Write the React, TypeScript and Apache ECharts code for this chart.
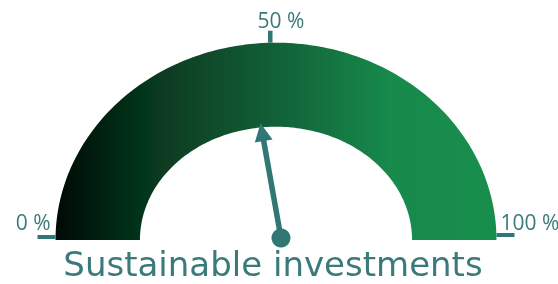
import React, { useEffect, useRef } from 'react';
import * as echarts from 'echarts';

const categories = ['Sustainable investments'];
const values = [46.5];
const tickValues = [0, 50, 100];
const tickLabels = ['0 %', '50 %', '100 %'];

const TEAL = '#317775';
const TEXT = '#3a7a7b';
const FONT = '"Open Sans", sans-serif';
const INNER_RX = 0.617;
const INNER_RY = 0.574;

// per-tick styling: rect offsets from the arc point and label placement
const tickStyle = [
  { rx: -18, ry: -5, rw: 18, rh: 4, lx: -5, ly: -18, align: 'right' },
  { rx: -8, ry: -12, rw: 4.5, rh: 12, lx: 5, ly: -23, align: 'center' },
  { rx: 0, ry: -7, rw: 18, rh: 4, lx: 4, ly: -18, align: 'left' },
];

export default function App() {
  const ref = useRef<HTMLDivElement>(null);
  useEffect(() => {
    const chart = echarts.init(ref.current!, null, { renderer: 'svg' });
    const renderItem = (params: any, api: any) => {
      const v = api.value(1) / 100;
      const c = (x: number, y: number) => api.coord([x, y]);
      const N = 160;
      const pts: number[][] = [];
      for (let i = 0; i <= N; i++) {
        const t = Math.PI * (1 - i / N);
        pts.push(c(Math.cos(t), Math.sin(t)));
      }
      for (let i = N; i >= 0; i--) {
        const t = Math.PI * (1 - i / N);
        pts.push(c(INNER_RX * Math.cos(t), INNER_RY * Math.sin(t)));
      }
      const children: any[] = [];
      children.push({
        type: 'polygon',
        shape: { points: pts },
        style: {
          fill: new echarts.graphic.LinearGradient(0, 0, 1, 0, [
            { offset: 0, color: '#000a05' },
            { offset: 0.2, color: '#00361b' },
            { offset: 0.24, color: '#0e3a21' },
            { offset: 0.45, color: '#105a33' },
            { offset: 0.56, color: '#136a3c' },
            { offset: 0.76, color: '#178a4c' },
            { offset: 1, color: '#188e4c' },
          ]),
        },
      });
      tickValues.forEach((tv, i) => {
        const t = Math.PI * (1 - tv / 100);
        const p = c(Math.cos(t), Math.sin(t));
        const s = tickStyle[i];
        children.push({
          type: 'rect',
          shape: { x: p[0] + s.rx, y: p[1] + s.ry, width: s.rw, height: s.rh },
          style: { fill: TEAL },
        });
        children.push({
          type: 'text',
          x: p[0] + s.lx,
          y: p[1] + s.ly,
          style: {
            text: tickLabels[i],
            fill: TEXT,
            font: `21px ${FONT}`,
            align: s.align,
            verticalAlign: 'middle',
          },
        });
      });
      // needle
      const th = Math.PI * (1 - v);
      const o = c(0, 0);
      const pivot = [o[0] + 5, o[1] - 2];
      const tip = c(INNER_RX * Math.cos(th) * 1.037, INNER_RY * Math.sin(th) * 1.037);
      const dx = tip[0] - pivot[0];
      const dy = tip[1] - pivot[1];
      const L = Math.sqrt(dx * dx + dy * dy);
      const ux = dx / L, uy = dy / L;
      const nx = -uy, ny = ux;
      const base = [tip[0] - 18 * ux, tip[1] - 18 * uy];
      children.push({
        type: 'line',
        shape: { x1: pivot[0], y1: pivot[1], x2: base[0] + 2 * ux, y2: base[1] + 2 * uy },
        style: { stroke: TEAL, lineWidth: 5.5 },
      });
      children.push({
        type: 'polygon',
        shape: { points: [tip, [base[0] + 9 * nx, base[1] + 9 * ny], [base[0] - 9 * nx, base[1] - 9 * ny]] },
        style: { fill: TEAL },
      });
      children.push({
        type: 'circle',
        shape: { cx: pivot[0], cy: pivot[1], r: 9.5 },
        style: { fill: TEAL },
      });
      return { type: 'group', children };
    };
    chart.setOption({
      animation: false,
      grid: { left: 55.5, top: 42.7, width: 441, height: 197.3 },
      xAxis: { type: 'value', min: -1, max: 1, show: false },
      yAxis: { type: 'value', min: 0, max: 1, show: false },
      graphic: [
        {
          type: 'text',
          x: 273,
          y: 264,
          style: {
            text: categories[0],
            fill: TEXT,
            font: '34px "DejaVu Sans", sans-serif',
            align: 'center',
            verticalAlign: 'middle',
          },
        },
      ],
      series: [
        {
          type: 'custom',
          renderItem,
          clip: false,
          data: values.map((val) => [0, val]),
        },
      ],
    });
    return () => chart.dispose();
  }, []);
  return <div ref={ref} style={{ position: 'fixed', left: 0, top: 0, width: 558, height: 284 }} />;
}
